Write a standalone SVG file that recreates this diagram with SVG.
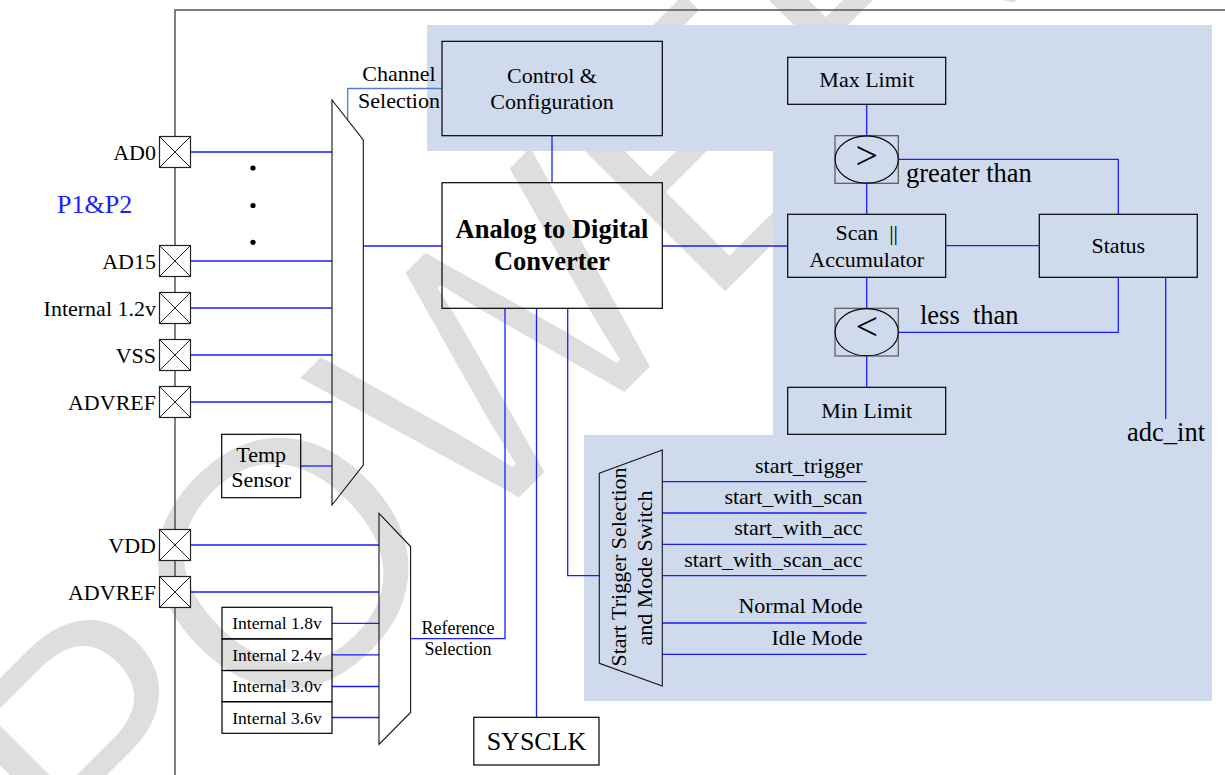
<svg xmlns="http://www.w3.org/2000/svg" width="1225" height="775" viewBox="0 0 1225 775">
<style>
  text { font-family: "Liberation Serif", "Times New Roman", serif; fill: #000; }
  .t22 { font-size: 22px; }
  .mid { text-anchor: middle; }
  .end { text-anchor: end; }
  .box { fill: none; stroke: #000; stroke-width: 1.2; }
  .mux { fill: none; stroke: #111; stroke-width: 1.1; }
  .pinbox { fill: #fff; stroke: #222; stroke-width: 1.2; }
  .x { stroke: #222; stroke-width: 1; }
  .frame { stroke: #555; stroke-width: 1.5; fill: none; }
  .w { stroke: #1c1cff; stroke-width: 1.3; fill: none; }
  .wl { stroke: #4f7fd6; stroke-width: 1.3; fill: none; }
  .cmp { fill: none; stroke: #555; stroke-width: 1.2; }
  .ell { fill: none; stroke: #000; stroke-width: 1.1; }
  .wm { font-family: "Liberation Sans", Arial, sans-serif; font-size: 355px; fill: #dedede; stroke: #fff; stroke-width: 5; }
</style>
<defs>
  <g id="pin">
    <rect class="pinbox" x="-15.5" y="-15.5" width="31" height="31"/>
    <line class="x" x1="-15.5" y1="-15.5" x2="15.5" y2="15.5"/>
    <line class="x" x1="15.5" y1="-15.5" x2="-15.5" y2="15.5"/>
  </g>
</defs>
<rect width="1225" height="775" fill="#fff"/>

<g id="watermark">
  <text class="wm" transform="translate(105,915) rotate(-45)">POWER</text>
</g>

<g id="regions">
  <polygon points="427,25 1212,25 1212,701 584,701 584,435 773,435 773,151 427,151" fill="#cfdbec"/>
</g>

<g id="frame">
  <polyline class="frame" points="175,775 175,10 1225,10"/>
</g>

<g id="connectors">
  <polyline class="wl" points="442,88.5 347.7,88.5 347.7,120.3"/>
  <line class="w" x1="190.5" y1="152" x2="332" y2="152"/>
  <line class="w" x1="190.5" y1="261" x2="332" y2="261"/>
  <line class="w" x1="190.5" y1="308" x2="332" y2="308"/>
  <line class="w" x1="190.5" y1="355" x2="332" y2="355"/>
  <line class="w" x1="190.5" y1="402" x2="332" y2="402"/>
  <line class="w" x1="300.7" y1="466" x2="332" y2="466"/>
  <line class="w" x1="363" y1="246" x2="442" y2="246"/>
  <line class="w" x1="552" y1="135.7" x2="552" y2="182.7"/>
  <line class="w" x1="662" y1="246" x2="787.7" y2="246"/>
  <line class="w" x1="190.5" y1="545" x2="379" y2="545"/>
  <line class="w" x1="190.5" y1="592" x2="379" y2="592"/>
  <line class="w" x1="332" y1="623.3" x2="379" y2="623.3"/>
  <line class="w" x1="332" y1="654.9" x2="379" y2="654.9"/>
  <line class="w" x1="332" y1="686.5" x2="379" y2="686.5"/>
  <line class="w" x1="332" y1="717.5" x2="379" y2="717.5"/>
  <polyline class="w" points="411,638.7 505,638.7 505,308.3"/>
  <line class="w" x1="536.5" y1="308.3" x2="536.5" y2="717.3"/>
  <polyline class="w" points="567.7,308.3 567.7,575.6 599.3,575.6"/>
  <line class="w" x1="662.3" y1="481.7" x2="866.5" y2="481.7"/>
  <line class="w" x1="662.3" y1="513" x2="866.5" y2="513"/>
  <line class="w" x1="662.3" y1="544.3" x2="866.5" y2="544.3"/>
  <line class="w" x1="662.3" y1="575.7" x2="866.5" y2="575.7"/>
  <line class="w" x1="662.3" y1="623" x2="866.5" y2="623"/>
  <line class="w" x1="662.3" y1="654.3" x2="866.5" y2="654.3"/>
  <line class="w" x1="866.7" y1="104.3" x2="866.7" y2="135.7"/>
  <line class="w" x1="866.7" y1="183.3" x2="866.7" y2="214.3"/>
  <line class="w" x1="866.7" y1="277.3" x2="866.7" y2="308.3"/>
  <line class="w" x1="866.7" y1="356" x2="866.7" y2="387.3"/>
  <polyline class="w" points="898.3,159.3 1118.3,159.3 1118.3,214.3"/>
  <polyline class="w" points="898.3,332.3 1118.3,332.3 1118.3,277.3"/>
  <line class="w" x1="945.7" y1="245.7" x2="1039.3" y2="245.7"/>
  <line class="w" x1="1165.7" y1="277.3" x2="1165.7" y2="419"/>
</g>

<g id="pins">
  <g id="pin-ad0"><use href="#pin" x="175" y="152"/><text class="t22 end" x="156" y="159.5">AD0</text></g>
  <g id="pin-ad15"><use href="#pin" x="175" y="261"/><text class="t22 end" x="156" y="268.5">AD15</text></g>
  <g id="pin-int12"><use href="#pin" x="175" y="308"/><text class="t22 end" x="156" y="315.5">Internal 1.2v</text></g>
  <g id="pin-vss"><use href="#pin" x="175" y="355"/><text class="t22 end" x="156" y="362.5">VSS</text></g>
  <g id="pin-advref1"><use href="#pin" x="175" y="402"/><text class="t22 end" x="156" y="409.5">ADVREF</text></g>
  <g id="pin-vdd"><use href="#pin" x="175" y="545"/><text class="t22 end" x="156" y="552.5">VDD</text></g>
  <g id="pin-advref2"><use href="#pin" x="175" y="592"/><text class="t22 end" x="156" y="599.5">ADVREF</text></g>
</g>

<g id="port-label">
  <text x="57" y="213" style="font-size:26px;fill:#1c1cff">P1&amp;P2</text>
  <circle cx="253" cy="168" r="2.6" fill="#000"/>
  <circle cx="253" cy="205.5" r="2.6" fill="#000"/>
  <circle cx="253" cy="242.3" r="2.6" fill="#000"/>
</g>

<g id="channel-mux">
  <polygon class="mux" points="332,100 363.3,140 363.3,465 332,505"/>
  <text class="t22 mid" x="399" y="81">Channel</text>
  <text class="t22 mid" x="399" y="108">Selection</text>
</g>

<g id="temp-sensor">
  <rect class="box" x="221.7" y="434.3" width="79" height="63.4"/>
  <text class="t22 mid" x="261.2" y="461.5">Temp</text>
  <text class="t22 mid" x="261.2" y="486.5">Sensor</text>
</g>

<g id="ref-mux">
  <polygon class="mux" points="379,513.3 410.6,546.5 410.6,712.5 379,744.3"/>
  <text class="mid" x="458" y="634" style="font-size:18px">Reference</text>
  <text class="mid" x="458" y="655" style="font-size:18px">Selection</text>
</g>

<g id="internal-refs">
  <rect class="box" x="222" y="607.3" width="110" height="31.6"/>
  <rect class="box" x="222" y="638.9" width="110" height="31.6"/>
  <rect class="box" x="222" y="670.5" width="110" height="31.2"/>
  <rect class="box" x="222" y="701.7" width="110" height="31.6"/>
  <text class="mid" x="277" y="629.2" style="font-size:17.5px">Internal 1.8v</text>
  <text class="mid" x="277" y="660.8" style="font-size:17.5px">Internal 2.4v</text>
  <text class="mid" x="277" y="692.3" style="font-size:17.5px">Internal 3.0v</text>
  <text class="mid" x="277" y="723.5" style="font-size:17.5px">Internal 3.6v</text>
</g>

<g id="control-config">
  <rect class="box" x="442" y="41.3" width="220.3" height="94.4"/>
  <text class="t22 mid" x="552" y="82.5">Control &amp;</text>
  <text class="t22 mid" x="552" y="109">Configuration</text>
</g>

<g id="adc">
  <rect class="box" x="442" y="182.7" width="220.3" height="125.6"/>
  <text class="mid" x="552" y="238" style="font-size:26.5px;font-weight:bold">Analog to Digital</text>
  <text class="mid" x="552" y="270" style="font-size:26.5px;font-weight:bold">Converter</text>
</g>

<g id="sysclk">
  <rect class="box" x="473.8" y="717.3" width="125.2" height="47.7"/>
  <text class="mid" x="536.5" y="750" style="font-size:26px">SYSCLK</text>
</g>

<g id="start-mux">
  <polygon class="mux" points="599.3,473.3 662.3,450 662.3,686 599.3,663.3"/>
  <text class="t22 mid" transform="translate(625.5,567) rotate(-90)">Start Trigger Selection</text>
  <text class="t22 mid" transform="translate(652,568) rotate(-90)">and Mode Switch</text>
  <text class="t22 end" x="862.5" y="472.5">start_trigger</text>
  <text class="t22 end" x="862.5" y="503.5">start_with_scan</text>
  <text class="t22 end" x="862.5" y="535">start_with_acc</text>
  <text class="t22 end" x="862.5" y="566.5">start_with_scan_acc</text>
  <text class="t22 end" x="862.5" y="613.3">Normal Mode</text>
  <text class="t22 end" x="862.5" y="645">Idle Mode</text>
</g>

<g id="max-limit">
  <rect class="box" x="787.7" y="57.3" width="158" height="47"/>
  <text class="t22 mid" x="866.7" y="86.5">Max Limit</text>
</g>

<g id="cmp-greater">
  <rect class="cmp" x="835" y="135.7" width="63.3" height="47.6"/>
  <ellipse class="ell" cx="866.7" cy="159.5" rx="31.6" ry="23.6"/>
  <text class="mid" x="866.7" y="168.5" style="font-size:40px">&gt;</text>
  <text x="906" y="182" style="font-size:26.5px">greater than</text>
</g>

<g id="scan-acc">
  <rect class="box" x="787.7" y="214.3" width="158" height="63"/>
  <text class="t22 mid" x="866.7" y="240" xml:space="preserve">Scan  ||</text>
  <text class="t22 mid" x="866.7" y="266.5">Accumulator</text>
</g>

<g id="status">
  <rect class="box" x="1039.3" y="214.3" width="158" height="63"/>
  <text class="t22 mid" x="1118.3" y="252.5">Status</text>
</g>

<g id="cmp-less">
  <rect class="cmp" x="835" y="308.3" width="63.3" height="47.7"/>
  <ellipse class="ell" cx="866.7" cy="332.2" rx="31.6" ry="23.6"/>
  <text class="mid" x="866.7" y="340" style="font-size:40px">&lt;</text>
  <text x="920" y="324.3" style="font-size:26.5px" xml:space="preserve">less  than</text>
</g>

<g id="min-limit">
  <rect class="box" x="787.7" y="387.3" width="158" height="47"/>
  <text class="t22 mid" x="866.7" y="417.7">Min Limit</text>
</g>

<g id="adc-int">
  <text class="mid" x="1166" y="441" style="font-size:26.5px">adc_int</text>
</g>
</svg>
